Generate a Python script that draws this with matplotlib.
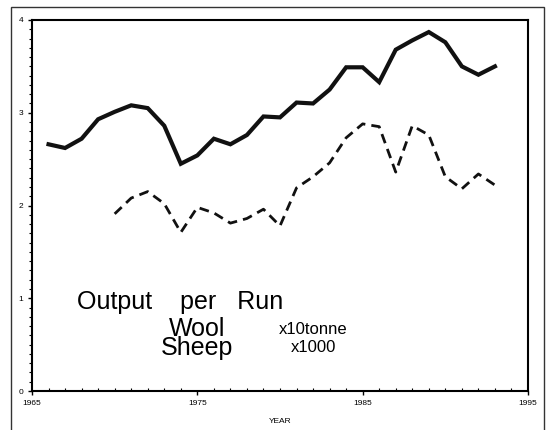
import matplotlib
matplotlib.use("Agg")
import matplotlib.pyplot as plt
from matplotlib.patches import Rectangle
from matplotlib.ticker import MultipleLocator

plt.rcParams['font.family'] = ['Liberation Sans', 'DejaVu Sans']

# wool output per run (x10 tonne)
wool_years = list(range(1966, 1994))
wool = [2.66, 2.62, 2.72, 2.93, 3.01, 3.08, 3.05, 2.86, 2.45, 2.54,
        2.72, 2.66, 2.76, 2.96, 2.95, 3.11, 3.10, 3.25, 3.49, 3.49,
        3.33, 3.68, 3.78, 3.87, 3.76, 3.50, 3.41, 3.50]

# sheep per run (x1000)
sheep_years = list(range(1970, 1994))
sheep = [1.91, 2.08, 2.15, 2.02, 1.71, 1.98, 1.92, 1.81, 1.86, 1.96,
         1.78, 2.19, 2.31, 2.46, 2.73, 2.88, 2.85, 2.36, 2.86, 2.76,
         2.31, 2.18, 2.34, 2.22]

fig = plt.figure(figsize=(5.46, 4.30), dpi=100)
ax = fig.add_axes([32/546, 39/430, 496/546, 371/430])

ax.plot(wool_years, wool, color="#111111", lw=3.0, solid_joinstyle="miter")
ax.plot(sheep_years, sheep, color="#111111", lw=2.0, dashes=(3.5, 2.2))

ax.set_xlim(1965, 1995)
ax.set_ylim(0, 4)
ax.set_xticks([1965, 1975, 1985, 1995])
ax.set_yticks([0, 1, 2, 3, 4])
ax.xaxis.set_minor_locator(MultipleLocator(1))
ax.yaxis.set_minor_locator(MultipleLocator(0.1))
ax.tick_params(which="major", direction="out", length=3, width=1, labelsize=6)
ax.tick_params(axis="x", which="minor", direction="in", length=2, width=0.8)
ax.tick_params(axis="y", which="minor", direction="out", length=2, width=0.8)
for s in ax.spines.values():
    s.set_linewidth(1.5)
ax.set_xlabel("YEAR", fontsize=6, labelpad=8)

# annotations
ax.text(1967.7, 0.96, "Output    per   Run", fontsize=18, va="center", ha="left")
ax.text(1975, 0.665, "Wool", fontsize=18, va="center", ha="center")
ax.text(1975, 0.46, "Sheep", fontsize=18, va="center", ha="center")
ax.text(1982, 0.665, "x10tonne", fontsize=12, va="center", ha="center")
ax.text(1982, 0.47, "x1000", fontsize=12, va="center", ha="center")

# outer frame
fig.add_artist(Rectangle((11/546, -0.02), 533/546, 1.004 - 7/430 + 0.02 - 0.004,
                         transform=fig.transFigure, fill=False,
                         edgecolor="#333333", lw=1.0))

fig.savefig("out.png", dpi=100)
